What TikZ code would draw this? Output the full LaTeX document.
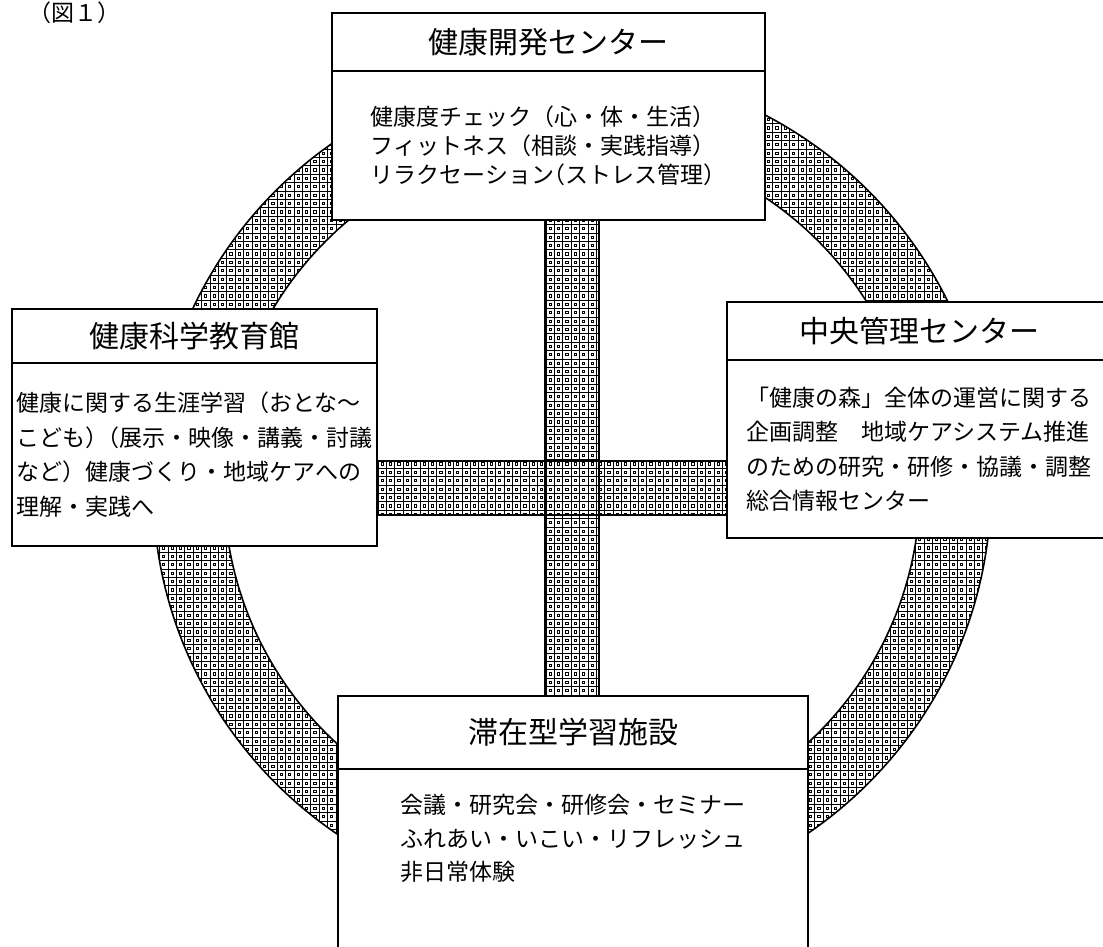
\documentclass[tikz,border=0pt]{standalone}
\usepackage{fontspec}
\newfontfamily\jp{Noto Sans CJK JP}
\usetikzlibrary{positioning, patterns, backgrounds}

% screen tone of the ring and the cross: small grid with a little square in each cell
\pgfdeclarepatternformonly{meshdots}{\pgfqpoint{-0.5pt}{-0.5pt}}{\pgfqpoint{4.7pt}{4.7pt}}{\pgfqpoint{4.2pt}{4.2pt}}{%
	\pgfsetlinewidth{0.45pt}%
	\pgfpathmoveto{\pgfqpoint{0pt}{0pt}}\pgfpathlineto{\pgfqpoint{4.2pt}{0pt}}%
	\pgfpathmoveto{\pgfqpoint{0pt}{0pt}}\pgfpathlineto{\pgfqpoint{0pt}{4.2pt}}%
	\pgfpathrectangle{\pgfqpoint{1.55pt}{1.55pt}}{\pgfqpoint{1.1pt}{1.1pt}}%
	\pgfusepath{stroke}%
}

\tikzset{
	box/.style={draw, line width=1pt, fill=white, outer sep=0pt, inner sep=0pt}, % frame of each facility
	head/.style={box, font=\jp\fontsize{15pt}{18pt}\selectfont}, % title row of a frame
	body/.style={box, align=left, font=\jp\fontsize{11.5pt}{17.25pt}\selectfont}, % text row of a frame
	mesh/.style={pattern=meshdots, draw, line width=0.8pt}, % screened band
}

\begin{document}
\begin{tikzpicture}[x=0.5pt, y=-0.5pt]
	\useasboundingbox (0,0) rectangle (1103,947);

	\node[anchor=north, inner sep=0pt, font=\jp\fontsize{11.5pt}{14pt}\selectfont] (fig) at (74,1) {（図１）};

	\node[head, anchor=north west, minimum width=216.5pt, minimum height=29pt] (dev) at (332,13) {健康開発センター};
	\node[body, below=0pt of dev, minimum width=216.5pt, minimum height=74.5pt, font=\jp\fontsize{11.5pt}{14.5pt}\selectfont] (devtxt)
		{健康度チェック（心・体・生活）\\フィットネス（相談・実践指導）\\リラクセーション\kern-.5em（ストレス管理）};

	\node[head, anchor=north west, minimum width=182.5pt, minimum height=27pt] (edu) at (12,309) {健康科学教育館};
	\node[body, below=0pt of edu, minimum width=182.5pt, minimum height=91.5pt] (edutxt)
		{健康に関する生涯学習（おとな～\\こども）\kern-.5em（展示・映像・講義・討議\\など）健康づくり・地域ケアへの\\理解・実践へ};

	\node[head, anchor=north west, minimum width=192pt, minimum height=29pt] (mgmt) at (727,302) {中央管理センター};
	\node[body, below=0pt of mgmt, minimum width=192pt, minimum height=89pt] (mgmttxt)
		{「健康の森」全体の運営に関する\\企画調整　地域ケアシステム推進\\のための研究・研修・協議・調整\\総合情報センター};

	\node[head, anchor=north west, minimum width=235pt, minimum height=36.5pt] (stay) at (338,696) {滞在型学習施設};
	\node[body, below=0pt of stay, minimum width=235pt, minimum height=116pt] (staytxt) {};
	\node[align=left, inner sep=0pt, below=12.5pt of stay, font=\jp\fontsize{11.5pt}{16.75pt}\selectfont] (staynote)
		{会議・研究会・研修会・セミナー\\ふれあい・いこい・リフレッシュ\\非日常体験};

	% ring and cross behind the frames
	\coordinate (vl) at (545,0);
	\coordinate (vr) at (599,0);
	\coordinate (ht) at (0,461);
	\coordinate (hb) at (0,515);
	\begin{scope}[on background layer]
		\draw[mesh, even odd rule] (572,487) circle[radius=419] circle[radius=348];
		\draw[mesh] (edutxt.east |- ht) rectangle (mgmttxt.west |- hb);
		\draw[mesh] (vl |- devtxt.south) rectangle (vr |- stay.north);
	\end{scope}
\end{tikzpicture}
\end{document}
